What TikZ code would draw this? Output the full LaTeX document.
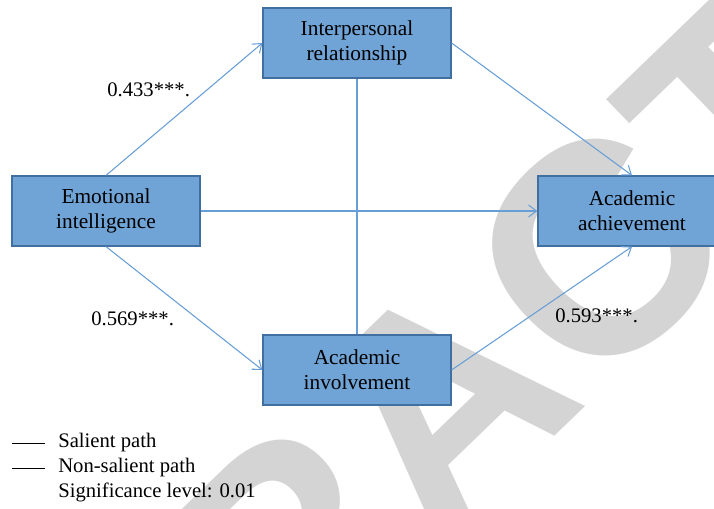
\documentclass[tikz,border=0pt]{standalone}
\usepackage{fontspec}
\setmainfont{Liberation Serif}
\newfontfamily\wmfont{Liberation Sans}
\usetikzlibrary{arrows.meta}

\definecolor{boxfill}{RGB}{112,164,214}
\definecolor{boxline}{RGB}{65,112,160}
\definecolor{pathblue}{RGB}{104,158,214}
\definecolor{wmgray}{RGB}{212,212,212}

\tikzset{
  varbox/.style={draw=boxline, fill=boxfill, line width=0.9pt, minimum width=141pt, minimum height=52.5pt, align=center, inner sep=0pt, font=\fontsize{16}{18.5}\selectfont},
  pathline/.style={draw=pathblue, line width=0.8pt},
  patharrow/.style={pathline, -{Straight Barb[length=6pt,width=9pt,line width=0.8pt]}},
  coef/.style={anchor=base west, inner sep=0pt, font=\fontsize{15.5}{18}\selectfont},
  legendtext/.style={anchor=west, inner sep=0pt, font=\fontsize{15.5}{18}\selectfont}
}

\begin{document}
\begin{tikzpicture}[x=0.75pt,y=0.75pt,yscale=-1,xscale=1]
\useasboundingbox (0,0) rectangle (714,509);

% watermark
\begin{scope}
\clip (0,0) rectangle (714,509);
\node [rotate=44, text=wmgray, inner sep=0pt, font=\wmfont\bfseries\fontsize{225}{225}\selectfont] (stamp) at (442,402) {RETRACTED};
\end{scope}

% Boxes
\node [varbox] (ir) at (357,43) {Interpersonal\\relationship};
\node [varbox] (ei) at (106,211) {Emotional\\intelligence};
\node [varbox] (aa) at (632,211) {Academic\\achievement};
\node [varbox] (ai) at (357,370) {Academic\\involvement};

% Paths
\draw [patharrow] (ei.north) -- (ir.west);
\draw [patharrow] (ei.east) -- (aa.west);
\draw [patharrow] (ei.south) -- (ai.west);
\draw [patharrow] (ir.east) -- (aa.north);
\draw [patharrow] (ai.east) -- (aa.south);
\draw [pathline] (ir.south) -- (ai.north);

% Text Node
\node [coef] (c1) at (107,97) {0.433***.};
\node [coef] (c2) at (91,326) {0.569***.};
\node [coef] (c3) at (555,323) {0.593***.};

% Legend
\coordinate (k1) at (12,443);
\coordinate (k2) at (12,468);
\draw [line width=0.7pt] (k1) -- ++(33,0);
\draw [line width=0.7pt] (k2) -- ++(33,0);
\node [legendtext] (l1) at (58,443) {Salient path};
\node [legendtext] (l2) at (58,468) {Non-salient path};
\node [legendtext] (l3) at (58,492) {Significance level: 0.01};

\end{tikzpicture}
\end{document}
